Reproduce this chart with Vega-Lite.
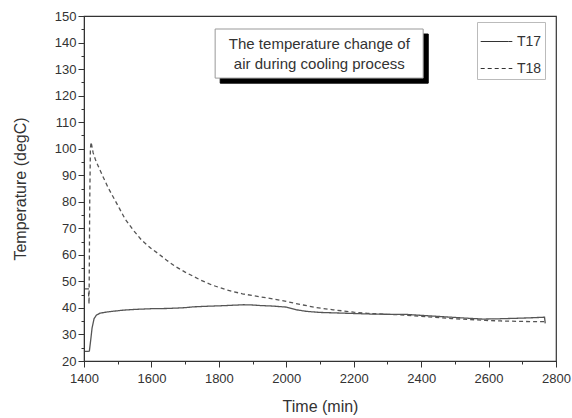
{
  "$schema": "https://vega.github.io/schema/vega-lite/v6.json",
  "width": 472,
  "height": 345,
  "autosize": "none",
  "padding": {"left": 84, "top": 16, "right": 16, "bottom": 57},
  "background": "white",
  "config": {
    "font": "Liberation Sans",
    "view": {"stroke": "#333", "strokeWidth": 1.2},
    "axis": {"labelColor": "#333", "titleColor": "#333", "domainColor": "#333", "tickColor": "#333", "labelFontSize": 13, "titleFontSize": 16, "titleFontWeight": "normal", "grid": false, "labelFont": "Liberation Sans", "titleFont": "Liberation Sans", "labelOverlap": false}
  },
  "datasets": {
    "lines": [
      {"series": "T17", "t": 1403, "v": 23.6}, {"series": "T17", "t": 1410, "v": 23.6}, {"series": "T17", "t": 1416, "v": 23.8}, {"series": "T17", "t": 1420, "v": 28}, {"series": "T17", "t": 1424, "v": 32.5}, {"series": "T17", "t": 1430, "v": 36}, {"series": "T17", "t": 1437, "v": 37.3}, {"series": "T17", "t": 1447, "v": 38}, {"series": "T17", "t": 1465, "v": 38.4}, {"series": "T17", "t": 1490, "v": 38.8}, {"series": "T17", "t": 1520, "v": 39.2}, {"series": "T17", "t": 1560, "v": 39.5}, {"series": "T17", "t": 1600, "v": 39.7}, {"series": "T17", "t": 1650, "v": 39.8}, {"series": "T17", "t": 1700, "v": 40.1}, {"series": "T17", "t": 1724, "v": 40.4}, {"series": "T17", "t": 1760, "v": 40.6}, {"series": "T17", "t": 1803, "v": 40.8}, {"series": "T17", "t": 1840, "v": 41}, {"series": "T17", "t": 1872, "v": 41.2}, {"series": "T17", "t": 1900, "v": 41.1}, {"series": "T17", "t": 1923, "v": 40.9}, {"series": "T17", "t": 1960, "v": 40.7}, {"series": "T17", "t": 2001, "v": 40.3}, {"series": "T17", "t": 2030, "v": 39.3}, {"series": "T17", "t": 2060, "v": 38.7}, {"series": "T17", "t": 2100, "v": 38.3}, {"series": "T17", "t": 2150, "v": 38.1}, {"series": "T17", "t": 2200, "v": 37.9}, {"series": "T17", "t": 2250, "v": 37.7}, {"series": "T17", "t": 2300, "v": 37.6}, {"series": "T17", "t": 2350, "v": 37.6}, {"series": "T17", "t": 2400, "v": 37.2}, {"series": "T17", "t": 2450, "v": 36.8}, {"series": "T17", "t": 2490, "v": 36.5}, {"series": "T17", "t": 2540, "v": 36.1}, {"series": "T17", "t": 2584, "v": 35.8}, {"series": "T17", "t": 2630, "v": 35.9}, {"series": "T17", "t": 2684, "v": 36.1}, {"series": "T17", "t": 2730, "v": 36.3}, {"series": "T17", "t": 2766, "v": 36.5}, {"series": "T17", "t": 2768, "v": 34.2},
      {"series": "T18", "t": 1403, "v": 47.2}, {"series": "T18", "t": 1413, "v": 47.2}, {"series": "T18", "t": 1415, "v": 41.5}, {"series": "T18", "t": 1417, "v": 80}, {"series": "T18", "t": 1419, "v": 100}, {"series": "T18", "t": 1421, "v": 102.5}, {"series": "T18", "t": 1427, "v": 98.5}, {"series": "T18", "t": 1435, "v": 95.5}, {"series": "T18", "t": 1442, "v": 93.5}, {"series": "T18", "t": 1455, "v": 89.8}, {"series": "T18", "t": 1472, "v": 85.2}, {"series": "T18", "t": 1490, "v": 81}, {"series": "T18", "t": 1505, "v": 77.5}, {"series": "T18", "t": 1522, "v": 73.5}, {"series": "T18", "t": 1545, "v": 69.5}, {"series": "T18", "t": 1571, "v": 65.5}, {"series": "T18", "t": 1600, "v": 62.3}, {"series": "T18", "t": 1620, "v": 60.5}, {"series": "T18", "t": 1645, "v": 58}, {"series": "T18", "t": 1670, "v": 55.7}, {"series": "T18", "t": 1700, "v": 53.5}, {"series": "T18", "t": 1744, "v": 50.6}, {"series": "T18", "t": 1780, "v": 48.6}, {"series": "T18", "t": 1823, "v": 46.8}, {"series": "T18", "t": 1870, "v": 45.3}, {"series": "T18", "t": 1922, "v": 44.2}, {"series": "T18", "t": 1960, "v": 43.4}, {"series": "T18", "t": 2001, "v": 42.4}, {"series": "T18", "t": 2050, "v": 41.1}, {"series": "T18", "t": 2090, "v": 40.1}, {"series": "T18", "t": 2139, "v": 39.3}, {"series": "T18", "t": 2200, "v": 38.4}, {"series": "T18", "t": 2238, "v": 38}, {"series": "T18", "t": 2300, "v": 37.6}, {"series": "T18", "t": 2337, "v": 37.4}, {"series": "T18", "t": 2380, "v": 37}, {"series": "T18", "t": 2435, "v": 36.5}, {"series": "T18", "t": 2490, "v": 36}, {"series": "T18", "t": 2536, "v": 35.7}, {"series": "T18", "t": 2590, "v": 35.3}, {"series": "T18", "t": 2634, "v": 35.1}, {"series": "T18", "t": 2700, "v": 34.9}, {"series": "T18", "t": 2768, "v": 34.8}
    ],
    "box": [
      {"kind": "shadow", "x1": 1804, "x2": 2421, "y1": 143.2, "y2": 124.7},
      {"kind": "face", "x1": 1789, "x2": 2406, "y1": 145.1, "y2": 126.6}
    ],
    "note": [
      {"tx": 2098, "ty": 139.4, "label": "The temperature change of|air during cooling process"}
    ]
  },
  "layer": [
    {
      "data": {"name": "lines"},
      "mark": {"type": "line", "color": "#555", "strokeWidth": 1.3},
      "encoding": {
        "x": {
          "field": "t", "type": "quantitative", "title": "Time (min)",
          "scale": {"domain": [1400, 2800], "nice": false, "zero": false},
          "axis": {
            "tickCount": 14,
            "labelExpr": "datum.value % 200 == 0 ? datum.label : ''",
            "format": "d",
            "tickSize": {"condition": {"test": "datum.value % 200 == 0", "value": 6}, "value": 3},
            "labelPadding": 5,
            "titlePadding": 13,
            "labelFlush": false,
            "labelOverlap": false
          }
        },
        "y": {
          "field": "v", "type": "quantitative", "title": "Temperature (degC)",
          "scale": {"domain": [20, 150], "nice": false, "zero": false},
          "axis": {
            "tickCount": 26,
            "labelExpr": "datum.value % 10 == 0 ? datum.label : ''",
            "tickSize": {"condition": {"test": "datum.value % 10 == 0", "value": 6}, "value": 3},
            "labelPadding": 2,
            "titlePadding": 26,
            "labelFlush": false,
            "labelOverlap": false
          }
        },
        "strokeDash": {
          "field": "series", "type": "nominal",
          "scale": {"domain": ["T17", "T18"], "range": [[1, 0], [4, 3]]},
          "legend": {
            "title": null, "orient": "none", "legendX": 393, "legendY": 6,
            "strokeColor": "#bbb", "padding": 3, "fillColor": "white",
            "symbolType": "stroke", "symbolSize": 1000, "symbolStrokeColor": "#333", "symbolStrokeWidth": 1.1,
            "labelFontSize": 14, "labelColor": "#333", "labelFont": "Liberation Sans", "labelOffset": 4, "rowPadding": 3
          }
        }
      }
    },
    {
      "data": {"name": "box"},
      "mark": {"type": "rect", "strokeWidth": 1},
      "encoding": {
        "x": {"field": "x1", "type": "quantitative"},
        "x2": {"field": "x2"},
        "y": {"field": "y1", "type": "quantitative"},
        "y2": {"field": "y2"},
        "fill": {"field": "kind", "type": "nominal", "scale": {"domain": ["shadow", "face"], "range": ["#000000", "#ffffff"]}, "legend": null},
        "stroke": {"field": "kind", "type": "nominal", "scale": {"domain": ["shadow", "face"], "range": ["#000000", "#999999"]}, "legend": null}
      }
    },
    {
      "data": {"name": "note"},
      "mark": {"type": "text", "lineBreak": "|", "lineHeight": 20, "fontSize": 15, "color": "#333", "align": "center", "baseline": "middle"},
      "encoding": {
        "x": {"field": "tx", "type": "quantitative"},
        "y": {"field": "ty", "type": "quantitative"},
        "text": {"field": "label"}
      }
    }
  ]
}
